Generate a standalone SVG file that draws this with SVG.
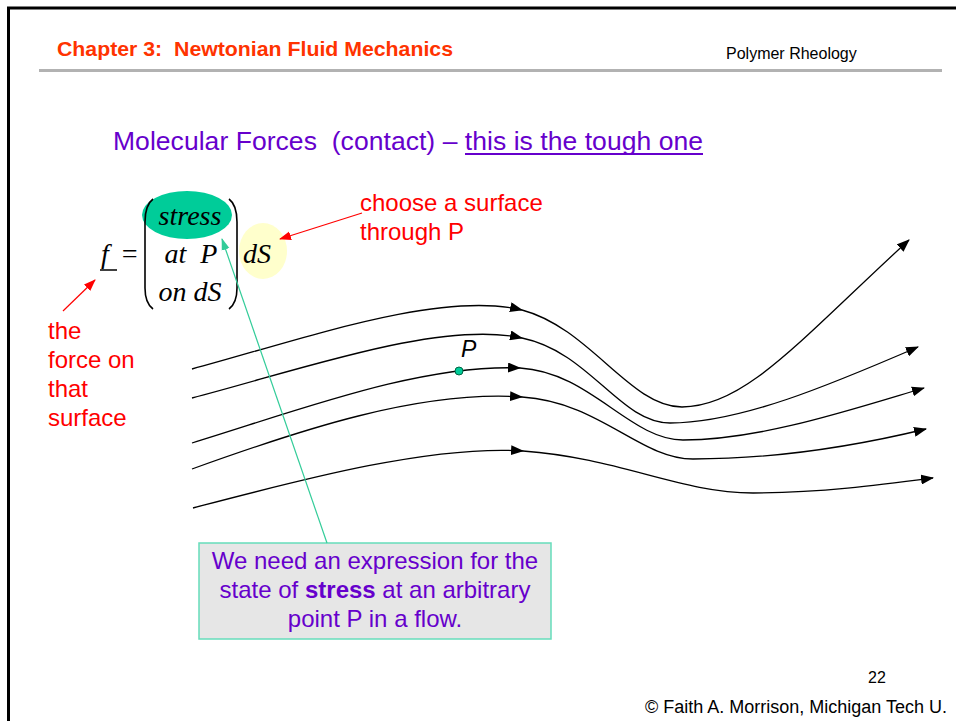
<svg xmlns="http://www.w3.org/2000/svg" width="956" height="721" viewBox="0 0 956 721">
<style>
.sans{font-family:"Liberation Sans",Arial,sans-serif}
.serif{font-family:"Liberation Serif","Times New Roman",serif;font-style:italic;font-size:28px;fill:#000}
.red{fill:#FF0000;font-size:24px}
.purple{fill:#6600CC}
.flow{fill:none;stroke:#000;stroke-width:1.3;marker-end:url(#ah)}
</style>
<defs>
<marker id="ah" markerUnits="userSpaceOnUse" markerWidth="14" markerHeight="10" refX="12" refY="5" orient="auto"><path d="M0,0 L13,5 L0,10 Z" fill="#000"/></marker>
<marker id="ahRed" markerUnits="userSpaceOnUse" markerWidth="12" markerHeight="10" refX="11" refY="5" orient="auto"><path d="M0,0.5 L12,5 L0,9.5 Z" fill="#FF0000"/></marker>
<marker id="ahTeal" markerUnits="userSpaceOnUse" markerWidth="12" markerHeight="10" refX="11" refY="5" orient="auto"><path d="M0,1 L12,5 L0,9 Z" fill="#33CC99"/></marker>
</defs>
<rect width="956" height="721" fill="#fff"/>
<!-- frame -->
<path d="M8.5,721 L8.5,8 L956,8" fill="none" stroke="#000" stroke-width="3"/>
<!-- header -->
<text class="sans" x="57" y="56" font-size="21" font-weight="bold" fill="#FF3300" textLength="396" lengthAdjust="spacingAndGlyphs" xml:space="preserve">Chapter 3:  Newtonian Fluid Mechanics</text>
<text class="sans" x="726" y="59" font-size="16" fill="#000">Polymer Rheology</text>
<line x1="39" y1="70.5" x2="942" y2="70.5" stroke="#B2B2B2" stroke-width="3"/>
<!-- title -->
<text class="sans purple" x="113" y="150" font-size="26.5" textLength="590" xml:space="preserve">Molecular Forces  (contact) – this is the tough one</text>
<line x1="465" y1="154" x2="703" y2="154" stroke="#6600CC" stroke-width="2"/>
<!-- equation -->
<g id="equation">
<ellipse cx="187" cy="215" rx="45" ry="24" fill="#00CC99"/>
<ellipse cx="263" cy="251" rx="24" ry="28" fill="#FFFFCC"/>
<text class="serif" x="101" y="263">f</text>
<line x1="100" y1="270" x2="117" y2="270" stroke="#000" stroke-width="1.5"/>
<text class="serif" x="120" y="263" font-style="normal">=</text>
<path d="M153,199 Q145,205 145,222 L145,288 Q145,303 153,309" fill="none" stroke="#000" stroke-width="1.6"/>
<path d="M229,199 Q237,205 237,222 L237,288 Q237,303 229,309" fill="none" stroke="#000" stroke-width="1.6"/>
<text class="serif" x="190" y="225" text-anchor="middle">stress</text>
<text class="serif" x="191" y="263" text-anchor="middle" xml:space="preserve">at  P</text>
<text class="serif" x="190" y="301" text-anchor="middle">on dS</text>
<text class="serif" x="243" y="263">dS</text>
</g>
<!-- labels -->
<g id="label-surface">
<text class="sans red" x="360" y="211">choose a surface</text>
<text class="sans red" x="360" y="240">through P</text>
</g>
<g id="label-force">
<text class="sans red" x="48" y="339">the</text>
<text class="sans red" x="48" y="368">force on</text>
<text class="sans red" x="48" y="397">that</text>
<text class="sans red" x="48" y="426">surface</text>
</g>
<g id="point-P">
<text class="sans" x="461" y="357" font-size="23" font-style="italic" fill="#000">P</text>
</g>
<g id="note">
<rect x="199" y="543" width="352" height="96" fill="#E6E6E6" stroke="#66DDBB" stroke-width="1.5"/>
<text class="sans purple" x="375" y="569" font-size="24" text-anchor="middle">We need an expression for the</text>
<text class="sans purple" x="375" y="598" font-size="24" text-anchor="middle">state of <tspan font-weight="bold">stress</tspan> at an arbitrary</text>
<text class="sans purple" x="375" y="627" font-size="24" text-anchor="middle">point P in a flow.</text>
</g>
<!-- connectors -->
<g id="connectors">
<path class="flow" d="M192,369 C300,340 440,290 522,310"/>
<path class="flow" d="M522,310 C590,328 630,407 682,407 C745,407 800,340 909,240"/>
<path class="flow" d="M192,398 C300,370 440,320 522,338"/>
<path class="flow" d="M522,338 C590,352 620,423 670,423 C740,423 830,385 918,347"/>
<path class="flow" d="M192,443 C300,410 420,364 520,368"/>
<path class="flow" d="M520,368 C590,372 630,440 683,440 C760,440 850,410 924,388"/>
<path class="flow" d="M192,469 C300,430 420,390 522,397"/>
<path class="flow" d="M522,397 C600,402 640,459 693,459 C780,459 860,445 926,429"/>
<path class="flow" d="M193,508 C300,480 430,445 523,451"/>
<path class="flow" d="M523,451 C620,458 680,493 753,493 C820,493 880,485 933,478"/>
<line x1="362" y1="213" x2="280" y2="239" stroke="#FF0000" stroke-width="1.2" marker-end="url(#ahRed)"/>
<line x1="63" y1="311" x2="95" y2="280" stroke="#FF0000" stroke-width="1.2" marker-end="url(#ahRed)"/>
<line x1="327" y1="543" x2="222" y2="239" stroke="#33CC99" stroke-width="1.2" marker-end="url(#ahTeal)"/>
</g>
<circle cx="459" cy="371" r="4" fill="#00CC99" stroke="#006644" stroke-width="1"/>
<!-- footer -->
<text class="sans" x="868" y="683" font-size="16" fill="#000">22</text>
<text class="sans" x="645" y="713" font-size="18" fill="#000">© Faith A. Morrison, Michigan Tech U.</text>
</svg>
